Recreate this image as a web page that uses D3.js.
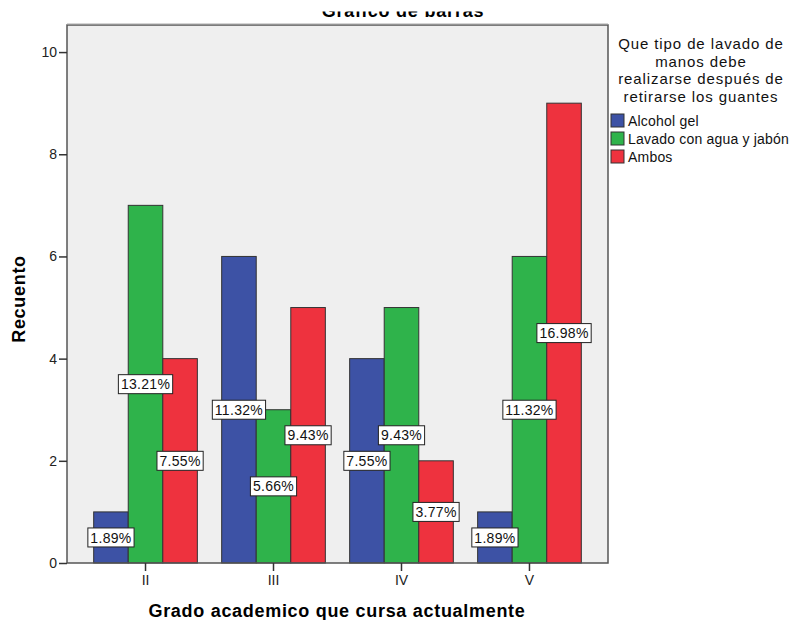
<!DOCTYPE html>
<html>
<head>
<meta charset="utf-8">
<script src="https://cdn.jsdelivr.net/npm/d3@7/dist/d3.min.js"></script>
<style>
  html, body { margin: 0; padding: 0; background: #ffffff; }
  svg { display: block; font-family: "Liberation Sans", Arial, sans-serif; }
</style>
</head>
<body>
<svg id="chart" width="790" height="620"></svg>
<script>
// Recuento por grado académico y tipo de lavado de manos
const grados = ["II", "III", "IV", "V"];
const tipos = ["Alcohol gel", "Lavado con agua y jabón", "Ambos"];
const alcoholGel = [1, 6, 4, 1];
const lavadoAguaJabon = [7, 3, 5, 6];
const ambos = [4, 5, 2, 9];
const yTicks = [0, 2, 4, 6, 8, 10];
const colores = ["#3d52a5", "#2fb34b", "#ee323e"];

const series = [alcoholGel, lavadoAguaJabon, ambos];
const total = d3.sum(series.flat());

const svg = d3.select("#chart");
const plot = { left: 67, right: 608, top: 25, bottom: 563 };

const x0 = d3.scaleBand()
  .domain(grados)
  .range([plot.left, plot.right])
  .paddingInner(0.19)
  .paddingOuter(0.2085);

const x1 = d3.scaleBand()
  .domain(d3.range(tipos.length))
  .range([0, x0.bandwidth()]);

const y = d3.scaleLinear()
  .domain([0, 10.53])
  .range([plot.bottom, plot.top]);

// Title (partly outside the visible page area)
svg.append("clipPath").attr("id", "titleClip")
  .append("rect").attr("x", 0).attr("y", 11.5).attr("width", 790).attr("height", 20);
svg.append("text")
  .attr("clip-path", "url(#titleClip)")
  .attr("x", 403).attr("y", 17)
  .attr("text-anchor", "middle")
  .attr("font-size", 18).attr("font-weight", "bold")
  .attr("letter-spacing", 0.8)
  .text("Gráfico de barras");

// Plot background
svg.append("rect")
  .attr("x", plot.left).attr("y", plot.top)
  .attr("width", plot.right - plot.left).attr("height", plot.bottom - plot.top)
  .attr("fill", "#efefef");

// Bars
const barData = [];
grados.forEach((g, gi) => {
  series.forEach((s, si) => barData.push({ g, si, v: s[gi] }));
});

svg.append("g").selectAll("rect")
  .data(barData)
  .join("rect")
  .attr("x", d => x0(d.g) + x1(d.si))
  .attr("y", d => y(d.v))
  .attr("width", x1.bandwidth())
  .attr("height", d => y(0) - y(d.v))
  .attr("fill", d => colores[d.si])
  .attr("stroke", "#333")
  .attr("stroke-width", 1);

// Plot frame
svg.append("rect")
  .attr("x", plot.left).attr("y", plot.top)
  .attr("width", plot.right - plot.left).attr("height", plot.bottom - plot.top)
  .attr("fill", "none")
  .attr("stroke", "#555")
  .attr("stroke-width", 1.5);
svg.append("line")
  .attr("x1", plot.left).attr("x2", plot.right)
  .attr("y1", plot.top - 1).attr("y2", plot.top - 1)
  .attr("stroke", "#aaa").attr("stroke-width", 1);

// Percentage labels at the middle of each bar
const fmt = d3.format(".2f");
const labels = svg.append("g").selectAll("g")
  .data(barData)
  .join("g")
  .attr("transform", d => `translate(${x0(d.g) + x1(d.si) + x1.bandwidth() / 2},${y(d.v / 2)})`);

labels.append("text")
  .attr("text-anchor", "middle")
  .attr("dy", "0.36em")
  .attr("font-size", 14)
  .attr("letter-spacing", 0.3)
  .attr("fill", "#111")
  .text(d => fmt(d.v / total * 100) + "%")
  .each(function () {
    const b = this.getBBox();
    d3.select(this.parentNode).insert("rect", "text")
      .attr("x", b.x - 2.5)
      .attr("y", -9.5)
      .attr("width", b.width + 5)
      .attr("height", 19)
      .attr("fill", "#fff")
      .attr("stroke", "#222")
      .attr("stroke-width", 1);
  });

// Y axis
const yAxis = d3.axisLeft(y).tickValues(yTicks).tickSize(8).tickPadding(2).tickFormat(d3.format("d"));
const gy = svg.append("g").attr("transform", `translate(${plot.left},0)`).call(yAxis);
gy.select(".domain").remove();
gy.selectAll(".tick line").attr("stroke", "#333").attr("stroke-width", 1.5);
gy.selectAll(".tick text").attr("font-size", 14).attr("fill", "#222")
  .attr("font-family", "Liberation Sans, Arial, sans-serif");

// X axis
const xAxis = d3.axisBottom(x0).tickSize(8).tickPadding(4);
const gx = svg.append("g").attr("transform", `translate(0,${plot.bottom})`).call(xAxis);
gx.select(".domain").remove();
gx.selectAll(".tick line").attr("stroke", "#333").attr("stroke-width", 1.5);
gx.selectAll(".tick text").attr("font-size", 14).attr("fill", "#222")
  .attr("font-family", "Liberation Sans, Arial, sans-serif");

// Axis titles
svg.append("text")
  .attr("x", 337).attr("y", 617)
  .attr("text-anchor", "middle")
  .attr("font-size", 18).attr("font-weight", "bold")
  .attr("letter-spacing", 0.7)
  .text("Grado academico que cursa actualmente");

svg.append("text")
  .attr("transform", "translate(25,299) rotate(-90)")
  .attr("text-anchor", "middle")
  .attr("font-size", 18).attr("font-weight", "bold")
  .attr("letter-spacing", 0.7)
  .text("Recuento");

// Legend
const legendTitle = ["Que tipo de lavado de", "manos debe", "realizarse después de", "retirarse los guantes"];
svg.append("g").selectAll("text")
  .data(legendTitle)
  .join("text")
  .attr("x", 701)
  .attr("y", (d, i) => 49 + i * 17.7)
  .attr("text-anchor", "middle")
  .attr("font-size", 15)
  .attr("letter-spacing", 0.9)
  .attr("fill", "#111")
  .text(d => d);

const legendItems = svg.append("g").selectAll("g")
  .data(tipos)
  .join("g")
  .attr("transform", (d, i) => `translate(611,${114 + i * 18})`);
legendItems.append("rect")
  .attr("width", 13).attr("height", 13)
  .attr("fill", (d, i) => colores[i])
  .attr("stroke", "#333").attr("stroke-width", 1);
legendItems.append("text")
  .attr("x", 17).attr("y", 11.5)
  .attr("font-size", 14)
  .attr("letter-spacing", 0.2)
  .attr("fill", "#111")
  .text(d => d);
</script>
</body>
</html>
